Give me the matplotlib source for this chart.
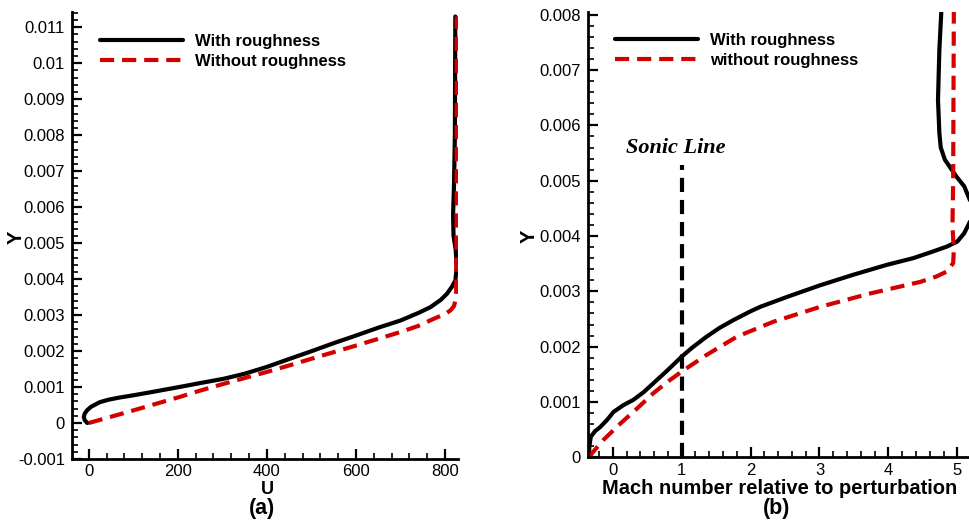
import matplotlib
matplotlib.use("Agg")
import matplotlib.pyplot as plt
from matplotlib.ticker import MultipleLocator, FixedLocator

plt.rcParams['font.family'] = ['Liberation Sans', 'DejaVu Sans']

# ---------------- data: panel (a) ----------------
u_with = [-3, -9, -11, -9, -4, 5, 25, 45, 70, 100, 150, 203, 250, 303, 350, 400, 450, 501, 550,
          602, 650, 700, 740, 767, 790, 804, 815, 823, 826, 824, 819, 818, 820, 822, 823]
y_with_a = [0.0, 0.00008, 0.00017, 0.00026, 0.00035, 0.00045, 0.00058, 0.00065, 0.00071, 0.00077,
            0.00088, 0.001, 0.00111, 0.00123, 0.00137, 0.00156, 0.00178, 0.002, 0.00222,
            0.00244, 0.00265, 0.00285, 0.00306, 0.00322, 0.00342, 0.00359, 0.00378, 0.00396,
            0.0043, 0.0048, 0.0052, 0.0058, 0.0066, 0.008, 0.0113]
u_without = [0, 48, 100, 150, 203, 250, 303, 350, 400, 450, 501, 550, 602, 650, 700, 740,
             775, 800, 812, 820, 823, 825, 825, 826, 826]
y_without_a = [0.0, 0.000167, 0.00035, 0.00053, 0.00072, 0.0009, 0.00109, 0.00125, 0.00142,
               0.0016, 0.00179, 0.00197, 0.00216, 0.00234, 0.00253, 0.0027, 0.0029, 0.00303,
               0.00313, 0.00325, 0.0034, 0.0037, 0.004, 0.006, 0.0113]
a_xticks = [0, 200, 400, 600, 800]
a_xticklabels = ['0', '200', '400', '600', '800']
a_yticks = [-0.001, 0, 0.001, 0.002, 0.003, 0.004, 0.005, 0.006, 0.007, 0.008, 0.009, 0.01, 0.011]
a_yticklabels = ['-0.001', '0', '0.001', '0.002', '0.003', '0.004', '0.005', '0.006',
                 '0.007', '0.008', '0.009', '0.01', '0.011']

# ---------------- data: panel (b) ----------------
m_with = [-0.35, -0.34, -0.32, -0.26, -0.18, -0.08, 0.01, 0.15, 0.3, 0.45, 0.59, 0.8, 1.0,
          1.15, 1.36, 1.55, 1.75, 2.0, 2.14, 2.53, 3.01, 3.49, 3.98, 4.36, 4.6, 4.85, 5.0,
          5.1, 5.2, 5.2, 5.1, 4.99, 4.82, 4.76, 4.74, 4.72, 4.74, 4.77]
y_with_b = [0.0, 0.0002, 0.00037, 0.00047, 0.00055, 0.00068, 0.00082, 0.00094, 0.00104,
            0.00118, 0.00134, 0.00158, 0.00182, 0.00198, 0.00218, 0.00234, 0.00248, 0.00264,
            0.00272, 0.0029, 0.00311, 0.0033, 0.00348, 0.0036, 0.0037, 0.00381, 0.0039,
            0.00405, 0.0043, 0.0046, 0.0049, 0.00507, 0.00538, 0.0056, 0.00586, 0.00646,
            0.00737, 0.0081]
m_without = [-0.35, -0.25, -0.14, 0.11, 0.35, 0.59, 0.8, 1.0, 1.36, 1.8, 2.33, 3.01, 3.73,
             4.46, 4.7, 4.85, 4.94, 4.95, 4.93, 4.94, 4.95]
y_without_b = [0.0, 0.00015, 0.00031, 0.00061, 0.00088, 0.00116, 0.00137, 0.00155, 0.00185,
               0.00218, 0.00245, 0.00272, 0.00296, 0.00317, 0.00327, 0.00336, 0.00351,
               0.00375, 0.00417, 0.005, 0.0081]
sonic_x = [1, 1]
sonic_y = [0.0, 0.00529]
b_xticks = [0, 1, 2, 3, 4, 5]
b_xticklabels = ['0', '1', '2', '3', '4', '5']
b_yticks = [0, 0.001, 0.002, 0.003, 0.004, 0.005, 0.006, 0.007, 0.008]
b_yticklabels = ['0', '0.001', '0.002', '0.003', '0.004', '0.005', '0.006', '0.007', '0.008']

W, H = 969, 521
fig = plt.figure(figsize=(W / 100, H / 100), dpi=100)

def px_axes(x0, x1, ytop, ybot):
    return fig.add_axes([x0 / W, 1 - ybot / H, (x1 - x0) / W, (ybot - ytop) / H])

ax1 = px_axes(72, 458, 12, 459)
ax2 = px_axes(588, 969, 12, 457.3)

RED = '#d40000'
LW = 3.0
DASH = (3.4, 1.9)

def style(ax):
    for s in ['top', 'right']:
        ax.spines[s].set_visible(False)
    for s in ['left', 'bottom']:
        ax.spines[s].set_linewidth(2.0)
    ax.tick_params(which='major', direction='in', length=7.5, width=1.6, labelsize=12, pad=3.8)
    ax.tick_params(which='minor', direction='in', length=4.2, width=1.2)
    ax.tick_params(axis='y', which='major', pad=5)

# ---- panel (a)
ax1.plot(u_with, y_with_a, color='black', lw=LW, label='With roughness',
         solid_capstyle='round', solid_joinstyle='round')
ax1.plot(u_without, y_without_a, color=RED, lw=LW, dashes=DASH, label='Without roughness')
ax1.set_xlim(-37.5, 829)
ax1.set_ylim(-0.001, 0.011425)
ax1.xaxis.set_major_locator(FixedLocator(a_xticks))
ax1.set_xticklabels(a_xticklabels)
ax1.yaxis.set_major_locator(FixedLocator(a_yticks))
ax1.set_yticklabels(a_yticklabels)
ax1.xaxis.set_minor_locator(MultipleLocator(40))
ax1.yaxis.set_minor_locator(MultipleLocator(0.0002))
style(ax1)
ax1.legend(loc='upper left', bbox_to_anchor=((100 - 72) / 386, 1 - (34 - 12) / 447),
           frameon=False, borderpad=0, borderaxespad=0, handlelength=5.0, handletextpad=0.7,
           labelspacing=0.3, prop={'weight': 'bold', 'size': 12})

# ---- panel (b)
ax2.plot(m_with, y_with_b, color='black', lw=LW, label='With roughness',
         solid_capstyle='round', solid_joinstyle='round')
ax2.plot(m_without, y_without_b, color=RED, lw=LW, dashes=DASH, label='without roughness')
ax2.plot(sonic_x, sonic_y, color='black', lw=LW, dashes=DASH)
ax2.set_xlim(-0.36, 5.17)
ax2.set_ylim(0, 0.00805)
ax2.xaxis.set_major_locator(FixedLocator(b_xticks))
ax2.set_xticklabels(b_xticklabels)
ax2.yaxis.set_major_locator(FixedLocator(b_yticks))
ax2.set_yticklabels(b_yticklabels)
ax2.xaxis.set_minor_locator(MultipleLocator(0.2))
ax2.yaxis.set_minor_locator(MultipleLocator(0.0002))
style(ax2)
ax2.legend(loc='upper left', bbox_to_anchor=((615 - 588) / 381, 1 - (33 - 12) / 445.3),
           frameon=False, borderpad=0, borderaxespad=0, handlelength=5.0, handletextpad=0.7,
           labelspacing=0.3, prop={'weight': 'bold', 'size': 12})
ax2.text(0.92, 0.00559, 'Sonic Line', ha='center', va='center', fontsize=16,
         family=['Liberation Serif', 'DejaVu Serif'], weight='bold', style='italic')

# ---- labels
fig.text(267 / W, 1 - 490 / H, 'U', ha='center', va='center', fontsize=13, weight='bold')
fig.text(262 / W, 1 - 508.5 / H, '(a)', ha='center', va='center', fontsize=15.5, weight='bold')
fig.text(16 / W, 1 - 237 / H, 'Y', ha='center', va='center', fontsize=14.5, weight='bold', rotation=90)
fig.text(780 / W, 1 - 488.5 / H, 'Mach number relative to perturbation', ha='center', va='center',
         fontsize=14.5, weight='bold')
fig.text(777 / W, 1 - 508.5 / H, '(b)', ha='center', va='center', fontsize=15.5, weight='bold')
fig.text(529 / W, 1 - 236 / H, 'Y', ha='center', va='center', fontsize=14.5, weight='bold', rotation=90)

fig.savefig('out.png', dpi=100)
